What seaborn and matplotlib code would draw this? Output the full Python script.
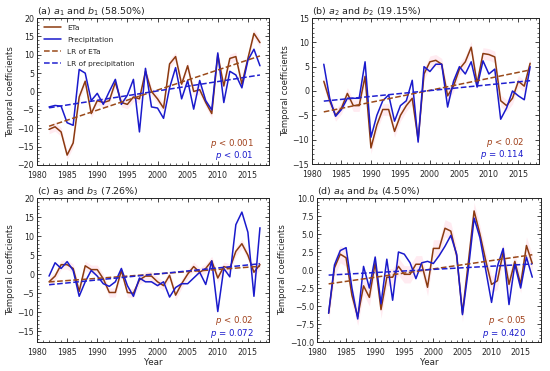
import numpy as np
import seaborn as sns
import matplotlib
matplotlib.use("Agg")
import matplotlib.pyplot as plt
from matplotlib.ticker import MultipleLocator, AutoMinorLocator

# years of the record
years = np.arange(1982, 2018)

# panel (a)
eta_a = [-10.3, -9.6, -11.0, -17.3, -14.0, -1.5, 2.8, -6.0, -2.5, -3.0, -2.5, 2.5,
         -3.0, -3.5, -1.5, -2.0, 5.5, 0.0, -2.0, -4.5, 7.5, 9.5, 2.0, 7.0,
         0.0, 0.5, -3.0, -6.0, 10.0, 1.5, 9.0, 9.5, 2.0, 9.0, 15.8, 13.3]
pre_a = [-4.2, -3.8, -4.0, -8.5, -9.2, 6.0, 5.0, -2.5, -0.5, -3.5, 0.0, 3.3,
         -3.5, -1.0, 3.3, -11.0, 6.3, -4.2, -4.5, -7.3, 1.0, 6.5, -2.0, 3.0,
         -4.8, 3.0, -2.5, -5.0, 10.5, -3.0, 5.5, 4.5, 1.0, 8.5, 11.5, 7.0]

# panel (b)
eta_b = [2.0, -2.0, -5.0, -3.5, -0.5, -3.0, -3.0, 3.0, -11.7, -7.0, -3.8, -3.8,
         -8.3, -5.0, -3.0, -1.5, -10.0, 3.5, 6.0, 6.3, 5.5, -1.0, 1.0, 4.5,
         6.0, 9.0, 1.5, 7.7, 7.5, 7.0, -2.0, -3.0, -1.5, 2.0, 1.0, 5.7]
pre_b = [5.5, -1.5, -5.2, -3.8, -1.5, -1.5, -1.5, 6.0, -9.5, -5.0, -2.0, -0.8,
         -6.2, -3.0, -2.0, 2.2, -10.5, 5.0, 4.0, 5.5, 5.5, -3.3, 2.0, 5.0,
         3.5, 6.0, 0.8, 6.2, 3.5, 4.5, -5.8, -3.5, 0.0, -1.0, -1.8, 5.0]

# panel (c)
eta_c = [-2.0, -0.5, 2.5, 2.5, 1.5, -4.5, 2.2, 1.2, 1.2, -1.2, -4.8, -4.8,
         1.0, -4.8, -5.0, -1.5, -0.5, -0.5, -2.0, -3.0, -0.3, -5.5, -2.5, 0.0,
         2.0, 0.5, 1.5, 3.5, -1.0, 2.0, 1.5, 6.0, 8.0, 5.0, 0.5, 2.5]
pre_c = [-0.5, 3.0, 1.5, 3.3, 1.0, -5.8, -2.0, 1.0, -0.5, -2.5, -3.2, -2.0,
         1.5, -3.0, -5.8, -1.0, -2.0, -2.0, -3.0, -2.0, -6.0, -3.5, -2.5, -2.5,
         -1.0, 0.5, -2.7, 3.5, -9.8, 1.5, -0.7, 13.0, 16.3, 11.0, -5.8, 12.2]

# panel (d)
eta_d = [-6.0, 0.3, 2.2, 1.7, -3.5, -6.5, -2.2, -3.8, 1.0, -5.5, -1.0, -1.0,
         0.5, -0.6, -0.6, 0.8, 0.8, -2.4, 3.0, 3.0, 5.8, 5.4, 2.0, -6.0,
         1.0, 8.2, 5.0, 1.3, -2.0, -1.5, 2.5, -2.0, 1.2, -2.0, 3.4, 0.9]
pre_d = [-6.0, 0.7, 2.7, 3.1, -2.5, -6.8, 0.5, -2.5, 1.8, -4.7, 1.5, -4.2,
         2.5, 2.2, 1.0, -1.2, 1.0, 1.2, 0.9, 2.0, 3.3, 4.8, 2.2, -6.2,
         0.0, 7.2, 4.5, 0.0, -4.5, 0.5, 3.0, -4.8, 0.8, -2.5, 1.8, -1.0]

titles = [r"(a) $a_1$ and $b_1$ (58.50%)", r"(b) $a_2$ and $b_2$ (19.15%)",
          r"(c) a$_3$ and $b_3$ (7.26%)", r"(d) $a_4$ and $b_4$ (4.50%)"]
p_eta = [r"$p$ < 0.001", r"$p$ < 0.02", r"$p$ < 0.02", r"$p$ < 0.05"]
p_pre = [r"$p$ < 0.01", r"$p$ = 0.114", r"$p$ = 0.072", r"$p$ = 0.420"]
ylims = [(-20, 20), (-15, 15), (-17.8, 20), (-10, 10)]
ysteps = [5, 5, 5, 2.5]

C_ETA = "#8b3a10"
C_PRE = "#1a1acc"
C_LR_ETA = "#9a4a1a"
C_LR_PRE = "#2020d0"

sns.set_style("ticks")
plt.rcParams["font.family"] = ["DejaVu Sans"]

fig = plt.figure(figsize=(5.5, 3.71), dpi=100)
W, H = 550, 371
boxes = [(37, 18, 269, 165), (312, 18, 539, 164),
         (37, 198, 269, 342), (317, 198, 541, 342)]


def draw_panel(ax, eta, pre, idx):
    eta = np.array(eta)
    pre = np.array(pre)
    ax.fill_between(years, eta - 1.2, eta + 1.2, color="#ffc8d8", alpha=0.35, lw=0)
    sns.lineplot(x=years, y=eta, ax=ax, color=C_ETA, lw=1.1, label="ETa")
    sns.lineplot(x=years, y=pre, ax=ax, color=C_PRE, lw=1.1, label="Precipitation")
    sns.regplot(x=years, y=eta, ax=ax, scatter=False, ci=None, color=C_LR_ETA,
                line_kws=dict(ls="--", lw=1.1), label="LR of ETa")
    sns.regplot(x=years, y=pre, ax=ax, scatter=False, ci=None, color=C_LR_PRE,
                line_kws=dict(ls="--", lw=1.1), label="LR of precipitation")

    ax.set_xlim(1980, 2018.5)
    ax.set_ylim(*ylims[idx])
    ax.xaxis.set_major_locator(MultipleLocator(5))
    ax.xaxis.set_minor_locator(MultipleLocator(1))
    ax.yaxis.set_major_locator(MultipleLocator(ysteps[idx]))
    ax.yaxis.set_minor_locator(AutoMinorLocator(5))
    ax.tick_params(which="both", direction="in", top=True, right=True,
                   labelsize=5.7)
    ax.tick_params(axis="y", pad=2)
    ax.tick_params(axis="x", pad=4)
    ax.tick_params(which="major", length=3, width=0.6)
    ax.tick_params(which="minor", length=1.5, width=0.5)
    for s in ax.spines.values():
        s.set_linewidth(0.7)

    ax.set_title(titles[idx], loc="left", fontsize=6.8, pad=2)
    ax.set_ylabel("Temporal coefficients", fontsize=6.1, labelpad=2)
    if idx >= 2:
        ax.set_xlabel("Year", fontsize=6.3, labelpad=1)
    else:
        ax.set_xlabel("")

    ax.text(0.935, 0.148, p_eta[idx], transform=ax.transAxes, ha="right",
            va="center", color="#a0401a", fontsize=6.2)
    ax.text(0.935, 0.062, p_pre[idx], transform=ax.transAxes, ha="right",
            va="center", color=C_PRE, fontsize=6.2)

    if idx == 0:
        ax.legend(loc="upper left", frameon=False, fontsize=5.3,
                  handlelength=2.4, borderaxespad=0.5, labelspacing=0.8)
    else:
        ax.get_legend().remove()


series = [(eta_a, pre_a), (eta_b, pre_b), (eta_c, pre_c), (eta_d, pre_d)]
for i, (x0, y0, x1, y1) in enumerate(boxes):
    ax = fig.add_axes([x0 / W, 1 - y1 / H, (x1 - x0) / W, (y1 - y0) / H])
    draw_panel(ax, series[i][0], series[i][1], i)

fig.savefig("out.png", dpi=100)
